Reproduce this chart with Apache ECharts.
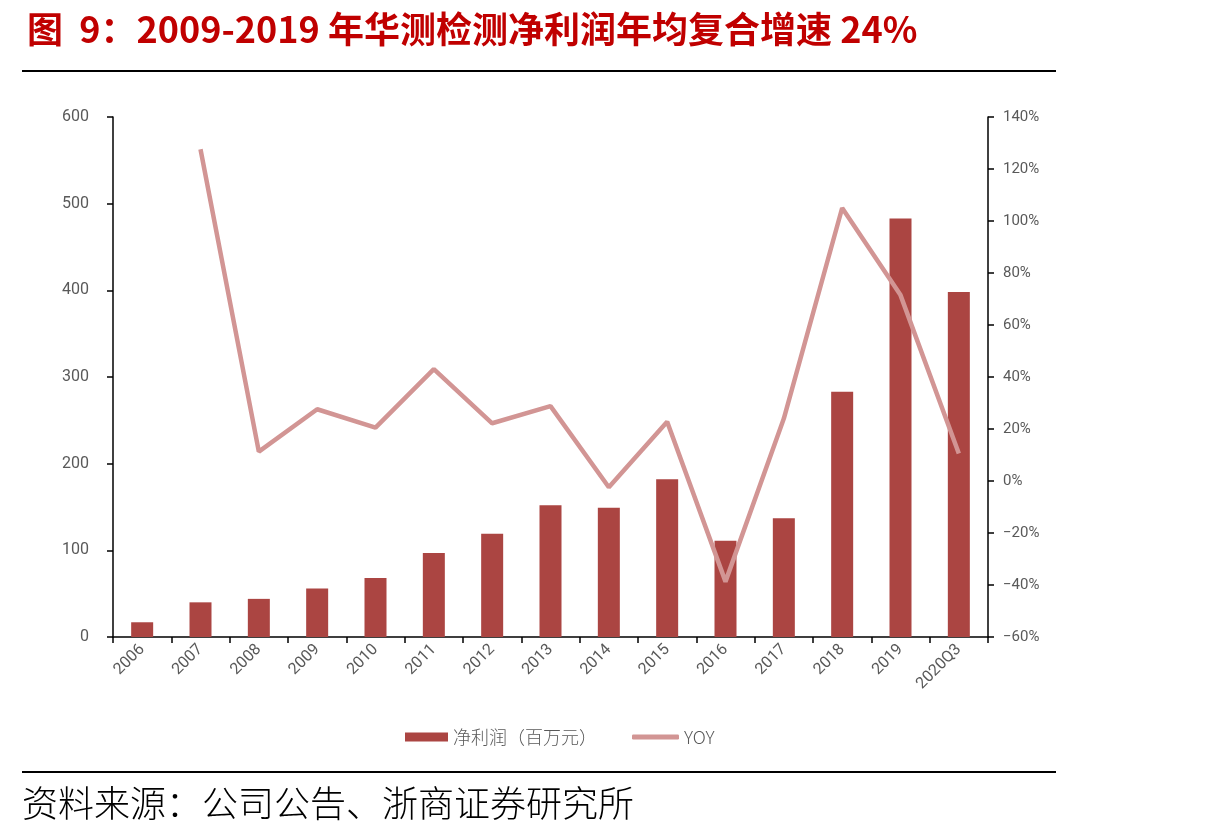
<!DOCTYPE html>
<html>
<head>
<meta charset="utf-8">
<script src="https://cdn.jsdelivr.net/npm/echarts@6/dist/echarts.min.js"></script>
<style>
  html, body { margin: 0; padding: 0; background: #fff; }
  #chart { width: 1210px; height: 839px; }
</style>
</head>
<body>
<div id="chart"></div>
<script>
// 数据
const categories = ['2006', '2007', '2008', '2009', '2010', '2011', '2012', '2013', '2014', '2015', '2016', '2017', '2018', '2019', '2020Q3'];
const netProfit = [17, 40, 44, 56, 68, 97, 119, 152, 149, 182, 111, 137, 283, 483, 398];
const yoy = [null, 127.6, 11.3, 27.6, 20.5, 43, 22.2, 28.8, -2.4, 22.8, -38.7, 24, 105, 71.5, 10.6];
const leftTicks = [0, 100, 200, 300, 400, 500, 600];
const rightTicks = [-60, -40, -20, 0, 20, 40, 60, 80, 100, 120, 140];

const chart = echarts.init(document.getElementById('chart'));

const axisText = { color: '#595959', fontSize: 15, fontFamily: 'Roboto, "Noto Sans", sans-serif' };
const legendText = { color: '#595959', fontSize: 18, fontWeight: 300, fontFamily: '"Noto Sans CJK SC", sans-serif' };

const option = {
    backgroundColor: '#fff',
    animation: false,
    title: {
        text: '图  9：2009-2019 年华测检测净利润年均复合增速 24%',
        left: 22,
        top: 6,
        textStyle: {
            color: '#c00000',
            fontSize: 36,
            fontWeight: 'bold',
            fontFamily: '"Noto Sans CJK SC", sans-serif',
        },
    },
    graphic: [
        { type: 'line', shape: { x1: 22, y1: 71, x2: 1056, y2: 71 }, style: { stroke: '#000', lineWidth: 2 } },
        { type: 'line', shape: { x1: 22, y1: 772, x2: 1056, y2: 772 }, style: { stroke: '#000', lineWidth: 2 } },
        {
            type: 'text',
            left: 22,
            top: 785,
            style: {
                text: '资料来源：公司公告、浙商证券研究所',
                fill: '#000',
                font: '300 36px "Noto Sans CJK SC", sans-serif',
            },
        },
    ],
    // 两个图例分开放，图标尺寸不同
    legend: [
        {
            left: 400,
            top: 723,
            itemWidth: 43,
            itemHeight: 9,
            textStyle: legendText,
            data: [{ name: '净利润（百万元）', icon: 'rect' }],
        },
        {
            left: 627,
            top: 723,
            itemWidth: 47,
            itemHeight: 5,
            textStyle: legendText,
            data: [{ name: 'YOY', icon: 'roundRect' }],
        },
    ],
    grid: { left: 113, right: 222, top: 117, bottom: 202 },
    xAxis: {
        type: 'category',
        data: categories,
        axisLine: { lineStyle: { color: '#000', width: 1.5 } },
        axisTick: { show: true, alignWithLabel: false, length: 6, lineStyle: { color: '#000', width: 1.5 } },
        axisLabel: Object.assign({}, axisText, { rotate: 45, interval: 0, margin: 10, fontSize: 16 }),
    },
    yAxis: [
        {
            type: 'value',
            min: leftTicks[0],
            max: leftTicks[leftTicks.length - 1],
            interval: 100,
            axisLine: { show: true, lineStyle: { color: '#000', width: 1.5 } },
            axisTick: { show: true, length: 6, lineStyle: { color: '#000', width: 1.5 } },
            axisLabel: Object.assign({ margin: 24 }, axisText, { fontSize: 16 }),
            splitLine: { show: false },
        },
        {
            type: 'value',
            min: rightTicks[0],
            max: rightTicks[rightTicks.length - 1],
            interval: 20,
            position: 'right',
            axisLine: { show: true, lineStyle: { color: '#000', width: 1.5 } },
            axisTick: { show: true, length: 6, lineStyle: { color: '#000', width: 1.5 } },
            axisLabel: Object.assign({
                margin: 15,
                formatter: (v) => (v < 0 ? '\u2212' + Math.abs(v) : v) + '%',
            }, axisText),
            splitLine: { show: false },
        },
    ],
    series: [
        {
            name: '净利润（百万元）',
            type: 'bar',
            data: netProfit,
            barWidth: 22,
            itemStyle: { color: '#ab4542' },
        },
        {
            name: 'YOY',
            type: 'line',
            yAxisIndex: 1,
            data: yoy,
            symbol: 'none',
            lineStyle: { color: '#d29594', width: 4.5 },
            itemStyle: { color: '#d29594' },
        },
    ],
};

chart.setOption(option);
</script>
</body>
</html>
